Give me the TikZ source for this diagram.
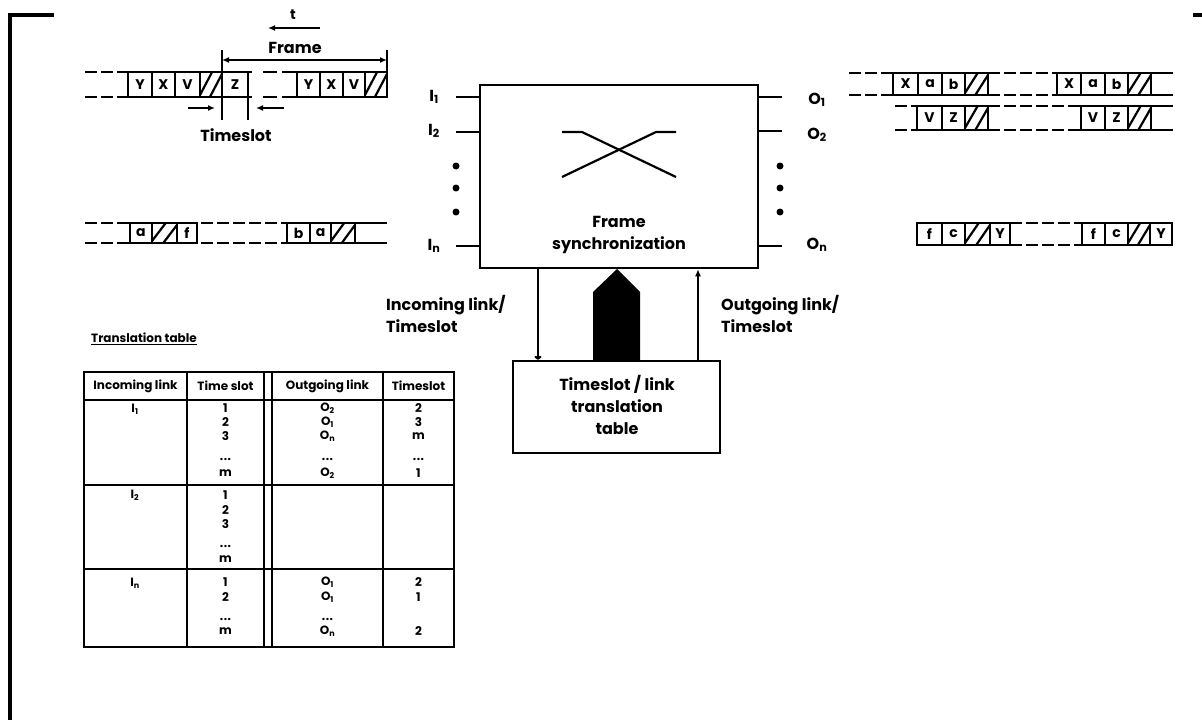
\documentclass[tikz,border=0pt]{standalone}
\usepackage{fontspec}
\setmainfont{Poppins}
\usetikzlibrary{arrows.meta}
\newcommand\tdots{.\kern0.5pt.\kern0.5pt.}
\newcommand\tsCell[5]{\draw[ln] (#1,#3) rectangle (#2,#4);
  \node[cellt] at ({(#1+#2)/2},{(#3+#4)/2}) {#5};}
\newcommand\tsHatch[4]{\draw[ln] (#1,#3) rectangle (#2,#4);
  \begin{scope}\clip (#1,#3) rectangle (#2,#4);
  \draw[ln] ({#1},{#4-2}) -- ({#1+0.55*(#2-#1)},{#3});
  \draw[ln] ({#1+0.45*(#2-#1)},{#4}) -- ({#2},{#3+2});
  \end{scope}}
\newcommand\tsSolid[4]{\draw[ln] (#1,#3)--(#2,#3) (#1,#4)--(#2,#4);}
\newcommand\tsDash[4]{\draw[ln,dash pattern=on 12pt off 4pt] (#1,#3)--(#2,#3) (#1,#4)--(#2,#4);}
\begin{document}
\begin{tikzpicture}[x=1pt,y=-1pt,
  ln/.style={line width=2.2pt},
  thick frame/.style={line width=3.5pt},
  big/.style={font=\fontsize{16}{22}\selectfont\bfseries, inner sep=0pt},
  cellt/.style={font=\fontsize{14}{14}\selectfont\bfseries, inner sep=0pt},
  tab/.style={font=\fontsize{12}{12}\selectfont\bfseries, inner sep=0pt},
  tip/.style={-{Latex[length=7pt,width=6pt]}},
  dotp/.style={circle, fill=black, inner sep=0pt, minimum size=7pt}]
\useasboundingbox (0,0) rectangle (1202,720);
% outer frame pieces
\draw[thick frame] (10,720) -- (10,15) -- (54,15);
\draw[thick frame] (1193,15) -- (1202,15);

% ---------- input stream I1 ----------
\tsDash{85}{128}{72}{97}
\tsSolid{128}{252}{72}{97}
\draw[ln] (263,72)--(277,72) (263,97)--(277,97);
\tsSolid{282}{387}{72}{97}
\tsCell{128}{152}{72}{97}{Y}
\tsCell{152}{175}{72}{97}{X}
\tsCell{175}{200}{72}{97}{V}
\tsHatch{200}{222}{72}{97}
\tsCell{222}{248}{72}{97}{Z}
\tsCell{297}{320}{72}{97}{Y}
\tsCell{320}{343}{72}{97}{X}
\tsCell{343}{365}{72}{97}{V}
\tsHatch{365}{387}{72}{97}
% frame / timeslot markers
\draw[ln] (222,50) -- (222,120);
\draw[ln] (387,50) -- (387,72);
\draw[ln] (248,97) -- (248,120);
\draw[ln,{Latex[length=7pt,width=6pt]}-{Latex[length=7pt,width=6pt]}] (222,60) -- (387,60);
\node[big] (frm) at (295,48) {Frame};
\draw[ln,tip] (188,108) -- (215,108);
\draw[ln,tip] (284,108) -- (256,108);
\node[big] (tsl) at (236,135) {Timeslot};
\draw[ln,tip] (320,28) -- (268,28);
\node[cellt] (tt) at (293,15) {t};

% ---------- input stream In ----------
\tsDash{85}{130}{223}{243}
\tsSolid{130}{197}{223}{243}
\tsDash{201}{287}{223}{243}
\tsSolid{287}{387}{223}{243}
\tsCell{130}{152}{223}{243}{a}
\tsHatch{152}{177}{223}{243}
\tsCell{177}{197}{223}{243}{f}
\tsCell{287}{310}{223}{243}{b}
\tsCell{310}{331}{223}{243}{a}
\tsHatch{331}{355}{223}{243}

% ---------- switch ----------
\node[draw, line width=2.5pt, minimum width=278pt, minimum height=183pt, inner sep=0pt] (sw) at (619,176.5) {};
\node[big, align=center] (swt) at (619,235) {Frame\\synchronization};
\draw[ln] (562,132) -- (582,132) -- (676,177);
\draw[ln] (562,177) -- (656,132) -- (676,132);
% inputs
\node[big] (i1) at (434,97) {I\textsubscript{1}};
\node[big] (i2) at (434,131) {I\textsubscript{2}};
\node[big] (in) at (434,246) {I\textsubscript{n}};
\coordinate (a1) at (456,97);
\coordinate (a2) at (456,132);
\coordinate (an) at (456,246);
\draw[ln] (a1) -- (sw.west |- a1);
\draw[ln] (a2) -- (sw.west |- a2);
\draw[ln] (an) -- (sw.west |- an);
\node[dotp] (di1) at (456,166) {};
\node[dotp] (di2) at (456,188) {};
\node[dotp] (di3) at (456,212) {};
% outputs
\coordinate (b1) at (782,97);
\coordinate (b2) at (782,131);
\coordinate (bn) at (782,246);
\draw[ln] (sw.east |- b1) -- (b1);
\draw[ln] (sw.east |- b2) -- (b2);
\draw[ln] (sw.east |- bn) -- (bn);
\node[dotp] (do1) at (780,166) {};
\node[dotp] (do2) at (780,188) {};
\node[dotp] (do3) at (780,212) {};
\node[big] (o1) at (817,100) {O\textsubscript{1}};
\node[big] (o2) at (817,135) {O\textsubscript{2}};
\node[big] (on) at (817,245) {O\textsubscript{n}};

% ---------- translation table box ----------
\node[draw, line width=2.5pt, minimum width=207pt, minimum height=92pt, inner sep=0pt] (tr) at (616.5,407) {};
\node[big, align=center] (trt) at (617,405) {Timeslot / link\\translation\\table};
\coordinate (la) at (538,300);
\coordinate (ra) at (698,300);
\draw[ln,-{To[length=4pt,width=7pt]}] (sw.south -| la) -- (tr.north -| la);
\draw[ln,-{Latex[length=7pt,width=6pt]}] (tr.north -| ra) -- (sw.south -| ra);
\fill (593,361) -- (593,292) -- (617,269) -- (640,292) -- (640,361) -- cycle;
\node[big, align=left, anchor=west] (inl) at (386,314) {Incoming link/\\Timeslot};
\node[big, align=left, anchor=west] (outl) at (721,314) {Outgoing link/\\Timeslot};

% ---------- output streams ----------
% O1
\tsDash{849}{893}{73}{95}
\tsSolid{893}{988}{73}{95}
\tsDash{988}{1057}{73}{95}
\tsSolid{1057}{1173}{73}{95}
\tsCell{893}{918}{73}{95}{X}
\tsCell{918}{942}{73}{95}{a}
\tsCell{942}{965}{73}{95}{b}
\tsHatch{965}{988}{73}{95}
\tsCell{1057}{1081}{73}{95}{X}
\tsCell{1081}{1105}{73}{95}{a}
\tsCell{1105}{1128}{73}{95}{b}
\tsHatch{1128}{1151}{73}{95}
% O2
\tsDash{895}{917}{106}{130}
\tsSolid{917}{988}{106}{130}
\tsDash{988}{1081}{106}{130}
\tsSolid{1081}{1173}{106}{130}
\tsCell{917}{942}{106}{130}{V}
\tsCell{942}{965}{106}{130}{Z}
\tsHatch{965}{988}{106}{130}
\tsCell{1081}{1105}{106}{130}{V}
\tsCell{1105}{1128}{106}{130}{Z}
\tsHatch{1128}{1151}{106}{130}
% On
\tsSolid{917}{1010}{223}{245}
\tsDash{1010}{1082}{223}{245}
\tsSolid{1082}{1172}{223}{245}
\tsCell{917}{942}{223}{245}{f}
\tsCell{942}{965}{223}{245}{c}
\tsHatch{965}{990}{223}{245}
\tsCell{990}{1010}{223}{245}{Y}
\tsCell{1082}{1105}{223}{245}{f}
\tsCell{1105}{1128}{223}{245}{c}
\tsHatch{1128}{1150}{223}{245}
\tsCell{1150}{1172}{223}{245}{Y}

% ---------- translation table ----------
\node[tab] (ttl) at (144,339) {\underline{Translation table}};
\draw[ln] (84,372) rectangle (454,647);
\draw[ln] (84,400) -- (454,400);
\draw[ln] (84,485) -- (454,485);
\draw[ln] (84,569) -- (454,569);
\foreach \xx in {187,264,272,383} \draw[ln] (\xx,372) -- (\xx,647);
\node[tab] (h1) at (135.5,386) {Incoming link};
\node[tab] (h2) at (225.5,386) {Time slot};
\node[tab] (h3) at (327.5,386) {Outgoing link};
\node[tab] (h4) at (418.5,386) {Timeslot};
% row 1
\node[tab] (r1a) at (135,409) {I\textsubscript{1}};
\foreach \v/\yy [count=\k] in {1/408,2/422,3/436,\tdots/459,m/473} \node[tab] (r1b\k) at (225.5,\yy) {\v};
\foreach \v/\yy [count=\k] in {O\textsubscript{2}/408,O\textsubscript{1}/422,O\textsubscript{n}/436,\tdots/459,O\textsubscript{2}/473} \node[tab] (r1c\k) at (327.5,\yy) {\v};
\foreach \v/\yy [count=\k] in {2/408,3/422,m/436,\tdots/459,1/473} \node[tab] (r1d\k) at (418.5,\yy) {\v};
% row 2
\node[tab] (r2a) at (135,495) {I\textsubscript{2}};
\foreach \v/\yy [count=\k] in {1/495,2/510,3/524,\tdots/546,m/559} \node[tab] (r2b\k) at (225.5,\yy) {\v};
% row 3
\node[tab] (r3a) at (135,583) {I\textsubscript{n}};
\foreach \v/\yy [count=\k] in {1/582,2/597,\tdots/619,m/631} \node[tab] (r3b\k) at (225.5,\yy) {\v};
\foreach \v/\yy [count=\k] in {O\textsubscript{1}/582,O\textsubscript{1}/597,\tdots/619,O\textsubscript{n}/631} \node[tab] (r3c\k) at (327.5,\yy) {\v};
\foreach \v/\yy [count=\k] in {2/582,1/597,2/631} \node[tab] (r3d\k) at (418.5,\yy) {\v};
\end{tikzpicture}
\end{document}
